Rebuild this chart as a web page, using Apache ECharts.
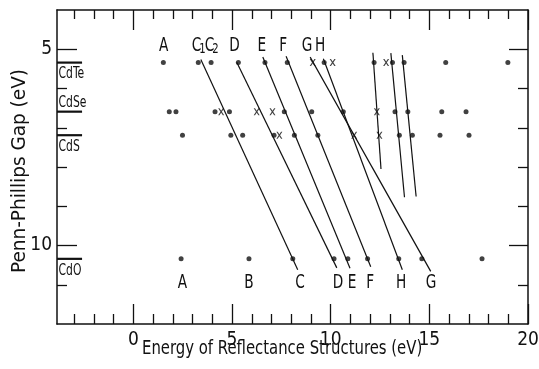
<!DOCTYPE html>
<html>
<head>
<meta charset="utf-8">
<script src="https://cdn.jsdelivr.net/npm/echarts@6/dist/echarts.min.js"></script>
<style>
  html, body { margin: 0; padding: 0; background: #fff; }
  #chart { width: 539px; height: 369px; }
</style>
</head>
<body>
<div id="chart"></div>
<script>
// Penn-Phillips gap of each cadmium compound (eV)
const compounds = ['CdTe', 'CdSe', 'CdS', 'CdO'];
const gapLevels = [5.34, 6.59, 7.19, 10.34];

// Reflectance structure energies (eV) per compound: filled dots and "x" marks
const dotEnergies = [
  [1.52, 3.29, 3.94, 5.32, 6.67, 7.80, 9.67, 12.20, 13.13, 13.72, 15.83, 18.98],
  [1.82, 2.16, 4.14, 4.87, 7.65, 9.04, 10.64, 13.26, 13.91, 15.63, 16.86],
  [2.49, 4.94, 5.54, 7.13, 8.16, 9.35, 13.48, 14.14, 15.54, 17.01],
  [2.42, 5.86, 8.08, 10.17, 10.87, 11.87, 13.45, 14.62, 17.67]
];
const crossEnergies = [
  [9.09, 10.10, 12.81],
  [4.45, 6.25, 7.05, 12.34],
  [7.40, 11.19, 12.47],
  []
];

// Trend lines joining related structures: [energy, gap] end points
const trendLines = [
  [[3.42, 5.26], [8.33, 10.62]],
  [[5.24, 5.33], [10.31, 10.57]],
  [[6.56, 5.20], [10.98, 10.58]],
  [[7.74, 5.18], [12.03, 10.54]],
  [[8.96, 5.20], [15.07, 10.66]],
  [[9.63, 5.24], [13.63, 10.62]],
  [[12.14, 5.09], [12.55, 8.05]],
  [[13.05, 5.10], [13.74, 8.77]],
  [[13.63, 5.15], [14.33, 8.75]]
];

// Structure letters above and below the data rows
const topLetters = ['A', 'C1', 'C2', 'D', 'E', 'F', 'G', 'H'];
const topLetterEnergy = [1.53, 3.30, 3.96, 5.13, 6.51, 7.59, 8.80, 9.46];
const bottomLetters = ['A', 'B', 'C', 'D', 'E', 'F', 'H', 'G'];
const bottomLetterEnergy = [2.49, 5.86, 8.45, 10.37, 11.08, 12.00, 13.57, 15.09];

// Axis ticks
const xMajorTicks = [0, 5, 10, 15, 20];
const xMinorTicks = [-3, -2, -1, 1, 2, 3, 4, 6, 7, 8, 9, 11, 12, 13, 14, 16, 17, 18, 19];
const yMajorTicks = [5, 10];
const yMinorTicks = [6, 7, 8, 9, 11];

const X_MIN = -3.87, X_MAX = 20, Y_MIN = 4, Y_MAX = 12;
const TOP_ROW = 4.91, BOTTOM_ROW = 10.96, LEVEL_BAR_END = -2.6;
const FONT = '"Liberation Sans Narrow", "DejaVu Sans Condensed", "Liberation Sans", sans-serif';
const INK = '#111';
const NARROW = 0.8;

function xAxisDef(pos, ticks, len, showLine, showLabel) {
  return {
    type: 'value', position: pos, min: X_MIN, max: X_MAX,
    axisLine: { show: showLine, onZero: false, lineStyle: { color: INK, width: 1.5 } },
    axisTick: { show: true, inside: true, length: len, customValues: ticks, lineStyle: { color: INK, width: 1.3 } },
    axisLabel: showLabel ? { show: true, customValues: ticks, margin: 7, color: INK, fontFamily: FONT, fontSize: 19 } : { show: false },
    splitLine: { show: false }
  };
}
function yAxisDef(pos, ticks, len, showLine, showLabel) {
  return {
    type: 'value', position: pos, min: Y_MIN, max: Y_MAX, inverse: true,
    axisLine: { show: showLine, onZero: false, lineStyle: { color: INK, width: 1.5 } },
    axisTick: { show: true, inside: true, length: len, customValues: ticks, lineStyle: { color: INK, width: 1.3 } },
    axisLabel: showLabel ? { show: true, customValues: ticks, margin: 5, color: INK, fontFamily: FONT, fontSize: 19 } : { show: false },
    splitLine: { show: false }
  };
}

const series = [];

trendLines.forEach(function (seg) {
  series.push({
    type: 'line', data: seg, symbol: 'none', silent: true, animation: false,
    lineStyle: { color: INK, width: 1.2 }, z: 2
  });
});

// Compound gap bars at the left edge
compounds.forEach(function (name, i) {
  series.push({
    type: 'line', data: [[X_MIN, gapLevels[i]], [LEVEL_BAR_END, gapLevels[i]]],
    symbol: 'none', silent: true, animation: false,
    lineStyle: { color: INK, width: 2.2 }, z: 2
  });
});

// Compound names next to their bars (CdSe sits above its bar, the rest below)
series.push({
  type: 'custom', silent: true, animation: false, z: 6,
  data: compounds.map(function (name, i) { return [X_MIN, gapLevels[i]]; }),
  renderItem: function (params, api) {
    const p = api.coord([api.value(0), api.value(1)]);
    const name = compounds[params.dataIndex];
    return {
      type: 'text', x: p[0] + 1.5, y: p[1] + (name === 'CdSe' ? -9 : 12), scaleX: NARROW,
      style: { text: name, fill: INK, font: '15px ' + FONT, align: 'left', verticalAlign: 'middle' }
    };
  }
});

const dotData = [], crossData = [];
dotEnergies.forEach(function (row, i) {
  row.forEach(function (e) { dotData.push([e, gapLevels[i]]); });
});
crossEnergies.forEach(function (row, i) {
  row.forEach(function (e) { crossData.push([e, gapLevels[i]]); });
});
series.push({
  type: 'scatter', data: dotData, symbol: 'circle', symbolSize: 5,
  itemStyle: { color: INK }, silent: true, animation: false, z: 5
});
series.push({
  type: 'scatter', data: crossData,
  symbol: 'path://M0,0L2.2,0L5,3.6L7.8,0L10,0L6.2,5L10,10L7.8,10L5,6.4L2.2,10L0,10L3.8,5Z',
  symbolSize: [6, 7], itemStyle: { color: INK }, silent: true, animation: false, z: 5
});

// Structure letters; a trailing digit is set as a subscript
function letterSeries(names, energies, row) {
  return {
    type: 'custom', silent: true, animation: false, z: 6,
    data: energies.map(function (e) { return [e, row]; }),
    renderItem: function (params, api) {
      const p = api.coord([api.value(0), api.value(1)]);
      const m = names[params.dataIndex].match(/^(\D)(\d)?$/);
      const children = [{
        type: 'text', x: m[2] ? -2.5 : 0, y: 0,
        style: { text: m[1], fill: INK, font: '19px ' + FONT, align: 'center', verticalAlign: 'middle' }
      }];
      if (m[2]) {
        children.push({
          type: 'text', x: 5, y: 4,
          style: { text: m[2], fill: INK, font: '14px ' + FONT, align: 'center', verticalAlign: 'middle' }
        });
      }
      return { type: 'group', x: p[0], y: p[1], scaleX: NARROW, children: children };
    }
  };
}
series.push(letterSeries(topLetters, topLetterEnergy, TOP_ROW));
series.push(letterSeries(bottomLetters, bottomLetterEnergy, BOTTOM_ROW));

const chart = echarts.init(document.getElementById('chart'), null, { renderer: 'canvas' });
chart.setOption({
  backgroundColor: '#fff',
  animation: false,
  grid: { left: 57, right: 11, top: 10, bottom: 45, containLabel: false, outerBoundsMode: 'none' },
  xAxis: [
    xAxisDef('bottom', xMajorTicks, 20, true, true),
    xAxisDef('bottom', xMinorTicks, 10, false, false),
    xAxisDef('top', xMajorTicks, 20, true, false),
    xAxisDef('top', xMinorTicks, 9, false, false)
  ],
  yAxis: [
    yAxisDef('left', yMajorTicks, 20, true, true),
    yAxisDef('left', yMinorTicks, 10, false, false),
    yAxisDef('right', yMajorTicks, 19, true, false),
    yAxisDef('right', yMinorTicks, 10, false, false)
  ],
  graphic: [
    {
      type: 'text', x: 142, y: 340, scaleX: 0.87,
      style: { text: 'Energy of Reflectance Structures (eV)', fill: INK, font: '19px ' + FONT }
    },
    {
      type: 'text', x: 11, y: 273, rotation: Math.PI / 2, scaleX: 1.08,
      style: { text: 'Penn-Phillips Gap (eV)', fill: INK, font: '19px ' + FONT }
    }
  ],
  series: series
});
</script>
</body>
</html>
